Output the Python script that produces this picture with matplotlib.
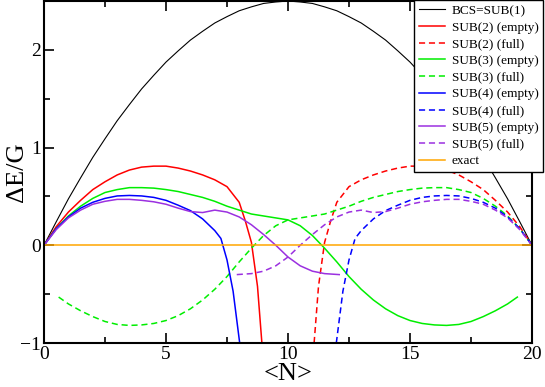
import matplotlib
matplotlib.use('Agg')
import matplotlib.pyplot as plt
from matplotlib.ticker import MultipleLocator

plt.rcParams['font.family'] = ['Liberation Serif', 'DejaVu Serif']

# BCS = SUB(1)
n_bcs = [0, 0.5, 1, 1.5, 2, 2.5, 3, 3.5, 4, 4.5, 5, 5.5, 6, 6.5, 7, 7.5, 8, 8.5, 9, 9.5, 10,
         10.5, 11, 11.5, 12, 12.5, 13, 13.5, 14, 14.5, 15, 15.5, 16, 16.5, 17, 17.5, 18, 18.5,
         19, 19.5, 20]
e_bcs = [0, 0.24, 0.475, 0.69, 0.90, 1.09, 1.275, 1.44, 1.60, 1.74, 1.875, 1.99, 2.10, 2.19,
         2.275, 2.34, 2.40, 2.44, 2.475, 2.49, 2.50, 2.49, 2.475, 2.44, 2.40, 2.34, 2.275,
         2.19, 2.10, 1.99, 1.875, 1.74, 1.60, 1.44, 1.275, 1.09, 0.90, 0.69, 0.475, 0.24, 0]

# SUB(2)
n_sub2_e = [0, 0.5, 1, 1.5, 2, 2.5, 3, 3.5, 4, 4.5, 5, 5.5, 6, 6.5, 7, 7.5, 8, 8.25, 8.5, 8.75, 8.93]
e_sub2_e = [0, 0.19, 0.34, 0.46, 0.57, 0.65, 0.72, 0.77, 0.80, 0.81, 0.81, 0.79, 0.76, 0.72,
            0.67, 0.60, 0.44, 0.25, 0.03, -0.42, -1.0]
n_sub2_f = [11.07, 11.25, 11.5, 11.75, 12, 12.5, 13, 13.5, 14, 14.5, 15, 15.5, 16, 16.5, 17, 17.5,
            18, 18.5, 19, 19.5, 20]
e_sub2_f = [-1.0, -0.42, 0.03, 0.25, 0.44, 0.60, 0.67, 0.72, 0.76, 0.79, 0.81, 0.81, 0.80, 0.77,
            0.72, 0.65, 0.57, 0.46, 0.34, 0.19, 0]

# SUB(3)
n_sub3_e = [0, 0.5, 1, 1.5, 2, 2.5, 3, 3.5, 4, 4.5, 5, 5.5, 6, 6.5, 7, 7.5, 8, 8.5, 9, 9.5, 10,
            10.5, 11, 11.5, 12, 12.5, 13, 13.5, 14, 14.5, 15, 15.5, 16, 16.5, 17, 17.5, 18, 18.5,
            19, 19.4]
e_sub3_e = [0, 0.17, 0.30, 0.40, 0.48, 0.54, 0.57, 0.59, 0.59, 0.585, 0.57, 0.55, 0.52, 0.49,
            0.45, 0.40, 0.36, 0.32, 0.30, 0.28, 0.26, 0.20, 0.10, -0.03, -0.17, -0.32, -0.45,
            -0.56, -0.65, -0.72, -0.77, -0.80, -0.815, -0.82, -0.81, -0.78, -0.73, -0.67, -0.60,
            -0.53]
n_sub3_f = [0.6, 1, 1.5, 2, 2.5, 3, 3.5, 4, 4.5, 5, 5.5, 6, 6.5, 7, 7.5, 8, 8.5, 9, 9.5, 10,
            10.5, 11, 11.5, 12, 12.5, 13, 13.5, 14, 14.5, 15, 15.5, 16, 16.5, 17, 17.5, 18, 18.5,
            19, 19.5, 20]
e_sub3_f = [-0.53, -0.60, -0.67, -0.73, -0.78, -0.81, -0.82, -0.815, -0.80, -0.77, -0.72,
            -0.65, -0.56, -0.45, -0.32, -0.17, -0.03, 0.10, 0.20, 0.26, 0.28, 0.30, 0.32, 0.36,
            0.40, 0.45, 0.49, 0.52, 0.55, 0.57, 0.585, 0.59, 0.59, 0.57, 0.54, 0.48, 0.40, 0.30,
            0.17, 0]

# SUB(4)
n_sub4_e = [0, 0.5, 1, 1.5, 2, 2.5, 3, 3.5, 4, 4.5, 5, 5.5, 6, 6.5, 7, 7.25, 7.5, 7.75, 8.02]
e_sub4_e = [0, 0.17, 0.29, 0.38, 0.44, 0.48, 0.505, 0.51, 0.505, 0.49, 0.46, 0.41, 0.355,
            0.27, 0.15, 0.07, -0.15, -0.47, -1.0]
n_sub4_f = [11.98, 12.25, 12.5, 12.75, 13, 13.5, 14, 14.5, 15, 15.5, 16, 16.5, 17, 17.5, 18,
            18.5, 19, 19.5, 20]
e_sub4_f = [-1.0, -0.47, -0.15, 0.07, 0.15, 0.27, 0.355, 0.41, 0.46, 0.49, 0.505, 0.51, 0.505,
            0.48, 0.44, 0.38, 0.29, 0.17, 0]

# SUB(5)
n_sub5_e = [0, 0.5, 1, 1.5, 2, 2.5, 3, 3.5, 4, 4.5, 5, 5.5, 6, 6.5, 7, 7.5, 8, 8.5, 9, 9.5,
            10, 10.5, 11, 11.5, 12.1]
e_sub5_e = [0, 0.16, 0.28, 0.36, 0.42, 0.45, 0.47, 0.47, 0.46, 0.445, 0.42, 0.38, 0.345,
            0.335, 0.36, 0.34, 0.29, 0.21, 0.11, 0.0, -0.12, -0.21, -0.265, -0.29, -0.30]
n_sub5_f = [7.9, 8.5, 9, 9.5, 10, 10.5, 11, 11.5, 12, 12.5, 13, 13.5, 14, 14.5, 15, 15.5,
            16, 16.5, 17, 17.5, 18, 18.5, 19, 19.5, 20]
e_sub5_f = [-0.30, -0.29, -0.265, -0.21, -0.12, 0.0, 0.11, 0.21, 0.29, 0.34, 0.36, 0.335,
            0.345, 0.38, 0.42, 0.445, 0.46, 0.47, 0.47, 0.45, 0.42, 0.36, 0.28, 0.16, 0]

# exact
n_exact = [0, 20]
e_exact = [0, 0]

red = '#ff0000'
green = '#00ee00'
blue = '#0000ff'
violet = '#9b30e0'
orange = '#ffa500'
dash = (4, 2.5)

fig = plt.figure(figsize=(5.45, 3.87), dpi=100)
ax = fig.add_axes([44 / 545, 1 - 343 / 387, 488 / 545, 342 / 387])

ax.plot(n_bcs, e_bcs, color='black', lw=0.8, label='BCS=SUB(1)')
ax.plot(n_sub2_e, e_sub2_e, color=red, lw=1.1, label='SUB(2) (empty)')
ax.plot(n_sub2_f, e_sub2_f, color=red, lw=1.1, dashes=dash, label='SUB(2) (full)')
ax.plot(n_sub3_e, e_sub3_e, color=green, lw=1.1, label='SUB(3) (empty)')
ax.plot(n_sub3_f, e_sub3_f, color=green, lw=1.1, dashes=dash, label='SUB(3) (full)')
ax.plot(n_sub4_e, e_sub4_e, color=blue, lw=1.1, label='SUB(4) (empty)')
ax.plot(n_sub4_f, e_sub4_f, color=blue, lw=1.1, dashes=dash, label='SUB(4) (full)')
ax.plot(n_sub5_e, e_sub5_e, color=violet, lw=1.1, label='SUB(5) (empty)')
ax.plot(n_sub5_f, e_sub5_f, color=violet, lw=1.1, dashes=dash, label='SUB(5) (full)')
ax.plot(n_exact, e_exact, color=orange, lw=1.1, label='exact')

ax.set_xlim(0, 20)
ax.set_ylim(-1, 2.5)
ax.xaxis.set_major_locator(MultipleLocator(5))
ax.xaxis.set_minor_locator(MultipleLocator(2.5))
ax.yaxis.set_major_locator(MultipleLocator(1))
ax.yaxis.set_minor_locator(MultipleLocator(0.5))
ax.tick_params(which='both', direction='in', top=True, right=True, width=1.2,
               labelsize=14, pad=2)
ax.tick_params(which='major', length=7)
ax.tick_params(which='minor', length=4)
for s in ax.spines.values():
    s.set_linewidth(1.5)

ax.set_xlabel('<N>', fontsize=19, labelpad=0)
ax.set_ylabel('ΔE/G', fontsize=19)
ax.yaxis.set_label_coords(-0.032, 0.5)

leg = ax.legend(loc='upper left', bbox_to_anchor=(414 / 545, 1.0),
                bbox_transform=fig.transFigure, fontsize=9.5, frameon=True,
                fancybox=False, framealpha=1, edgecolor='black', borderpad=0.35,
                labelspacing=0.34, handlelength=2.0, handletextpad=0.5,
                borderaxespad=0)
leg.get_frame().set_linewidth(1.0)

fig.savefig('out.png', dpi=100)
